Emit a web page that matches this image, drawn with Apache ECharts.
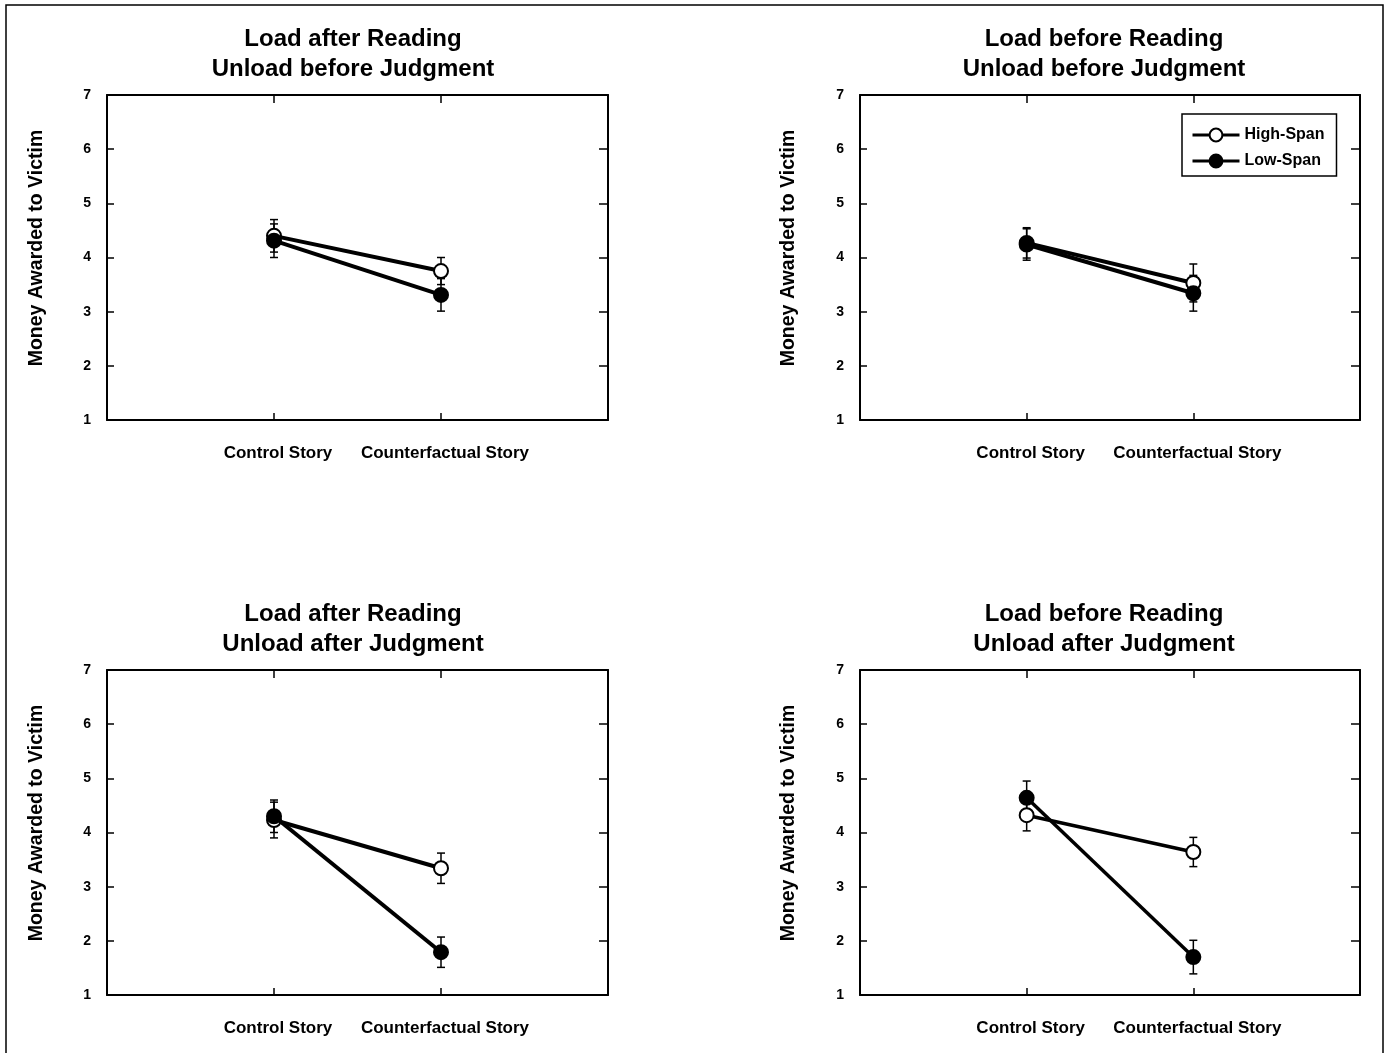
<!DOCTYPE html>
<html>
<head>
<meta charset="utf-8">
<script src="https://cdn.jsdelivr.net/npm/echarts@6/dist/echarts.min.js"></script>
<style>
html,body{margin:0;padding:0;background:#fff;}
#chart{width:1389px;height:1053px;}
</style>
</head>
<body>
<div id="chart"></div>
<script>
// ---------- data ----------
const categories = ['Control Story', 'Counterfactual Story'];
const categoryPositions = [1, 2];
const panelTitles = [
  'Load after Reading\nUnload before Judgment',
  'Load before Reading\nUnload before Judgment',
  'Load after Reading\nUnload after Judgment',
  'Load before Reading\nUnload after Judgment'
];
const seriesNames = ['High-Span', 'Low-Span'];
const yAxisTitle = 'Money Awarded to Victim';
const yTicks = [1, 2, 3, 4, 5, 6, 7];
// means per panel: [control, counterfactual]
const highSpanMeans = [[4.40, 3.75], [4.27, 3.53], [4.23, 3.34], [4.32, 3.64]];
const highSpanErr   = [[0.30, 0.25], [0.28, 0.35], [0.33, 0.28], [0.29, 0.27]];
const lowSpanMeans  = [[4.31, 3.31], [4.24, 3.34], [4.30, 1.79], [4.64, 1.70]];
const lowSpanErr    = [[0.31, 0.30], [0.29, 0.33], [0.30, 0.28], [0.31, 0.31]];

// ---------- layout ----------
const FONT = 'Arial, "Liberation Sans", sans-serif';
const grids = [
  {left: 107, top: 95, width: 501, height: 325},
  {left: 860, top: 95, width: 500, height: 325},
  {left: 107, top: 670, width: 501, height: 325},
  {left: 860, top: 670, width: 500, height: 325}
];
const titlePos = [[353, 24], [1104, 24], [353, 599], [1104, 599]];
const yTitlePos = [[37, 248], [789, 248], [37, 823], [789, 823]];
const lineWidths = [4, 4, 4, 3.5];

const option = {
  animation: false,
  backgroundColor: '#fff',
  grid: grids.map(g => Object.assign({containLabel: false}, g)),
  xAxis: [],
  yAxis: [],
  series: [],
  legend: {
    data: seriesNames,
    orient: 'vertical',
    left: 1182,
    top: 114,
    itemWidth: 47,
    itemHeight: 16,
    itemGap: 10,
    padding: [13, 12, 7, 9],
    borderColor: '#000',
    borderWidth: 1.5,
    borderRadius: 0,
    backgroundColor: '#fff',
    selectedMode: false,
    lineStyle: {width: 3, color: '#000'},
    textStyle: {fontFamily: FONT, fontWeight: 'bold', fontSize: 16, color: '#000'}
  },
  graphic: []
};

const axisLineStyle = {show: true, onZero: false, lineStyle: {color: '#000', width: 2}};

grids.forEach((g, i) => {
  // bottom x axis with category labels
  option.xAxis.push({
    gridIndex: i, type: 'value', position: 'bottom', min: 0, max: 3, interval: 1,
    axisLine: axisLineStyle,
    axisTick: {show: true, inside: true, length: 7, customValues: categoryPositions,
      lineStyle: {color: '#000', width: 1.5}},
    axisLabel: {
      show: true, margin: 25, padding: [0, 0, 0, 8], customValues: categoryPositions,
      fontFamily: FONT, fontWeight: 'bold', fontSize: 17, color: '#000',
      formatter: v => categories[categoryPositions.indexOf(v)] || ''
    },
    splitLine: {show: false}
  });
  // top x axis (frame + ticks)
  option.xAxis.push({
    gridIndex: i, type: 'value', position: 'top', min: 0, max: 3, interval: 1,
    axisLine: axisLineStyle,
    axisTick: {show: true, inside: true, length: 8, customValues: categoryPositions,
      lineStyle: {color: '#000', width: 1.5}},
    axisLabel: {show: false},
    splitLine: {show: false}
  });
  // left y axis
  option.yAxis.push({
    gridIndex: i, type: 'value', position: 'left',
    min: yTicks[0], max: yTicks[yTicks.length - 1], interval: 1,
    axisLine: axisLineStyle,
    axisTick: {show: true, inside: true, length: 7, lineStyle: {color: '#000', width: 1.5}},
    axisLabel: {show: true, margin: 16, fontFamily: FONT, fontWeight: 'bold', fontSize: 14, color: '#000'},
    splitLine: {show: false}
  });
  // right y axis
  option.yAxis.push({
    gridIndex: i, type: 'value', position: 'right',
    min: yTicks[0], max: yTicks[yTicks.length - 1], interval: 1,
    axisLine: axisLineStyle,
    axisTick: {show: true, inside: true, length: 9, lineStyle: {color: '#000', width: 1.5}},
    axisLabel: {show: false},
    splitLine: {show: false}
  });

  const errData = [];
  categoryPositions.forEach((xp, j) => {
    errData.push([xp, highSpanMeans[i][j] - highSpanErr[i][j], highSpanMeans[i][j] + highSpanErr[i][j]]);
    errData.push([xp, lowSpanMeans[i][j] - lowSpanErr[i][j], lowSpanMeans[i][j] + lowSpanErr[i][j]]);
  });

  option.series.push({
    type: 'custom',
    name: 'err' + i,
    xAxisIndex: 2 * i, yAxisIndex: 2 * i,
    z: 1,
    silent: true,
    encode: {x: 0, y: [1, 2]},
    data: errData,
    renderItem: (params, api) => {
      const x = api.value(0);
      const lo = api.coord([x, api.value(1)]);
      const hi = api.coord([x, api.value(2)]);
      const hw = 4;
      const st = {stroke: '#000', lineWidth: 1.5};
      return {
        type: 'group',
        children: [
          {type: 'line', shape: {x1: lo[0], y1: lo[1], x2: hi[0], y2: hi[1]}, style: st},
          {type: 'line', shape: {x1: lo[0] - hw, y1: lo[1], x2: lo[0] + hw, y2: lo[1]}, style: st},
          {type: 'line', shape: {x1: hi[0] - hw, y1: hi[1], x2: hi[0] + hw, y2: hi[1]}, style: st}
        ]
      };
    }
  });

  [[highSpanMeans, '#fff'], [lowSpanMeans, '#000']].forEach(([means, fill], k) => {
    option.series.push({
      type: 'line',
      name: seriesNames[k],
      xAxisIndex: 2 * i, yAxisIndex: 2 * i,
      z: 2 + k,
      data: categoryPositions.map((xp, j) => [xp, means[i][j]]),
      symbol: 'circle',
      symbolSize: 14,
      showSymbol: true,
      color: '#000',
      lineStyle: {color: '#000', width: lineWidths[i]},
      itemStyle: {color: fill, borderColor: '#000', borderWidth: 2},
      emphasis: {disabled: true}
    });
  });

  option.graphic.push({
    type: 'text',
    x: titlePos[i][0], y: titlePos[i][1],
    style: {
      text: panelTitles[i], textAlign: 'center', textVerticalAlign: 'top',
      font: 'bold 24px ' + FONT, lineHeight: 30, fill: '#000'
    }
  });
  option.graphic.push({
    type: 'text',
    x: yTitlePos[i][0], y: yTitlePos[i][1],
    rotation: Math.PI / 2,
    style: {
      text: yAxisTitle, textAlign: 'center', textVerticalAlign: 'middle',
      font: 'bold 19.5px ' + FONT, fill: '#000'
    }
  });
});

// outer frame
option.graphic.push({
  type: 'rect',
  shape: {x: 6, y: 5, width: 1377, height: 1060},
  style: {fill: 'none', stroke: '#000', lineWidth: 1.5},
  z: -1
});

const chart = echarts.init(document.getElementById('chart'), null, {renderer: 'canvas'});
chart.setOption(option);
</script>
</body>
</html>
